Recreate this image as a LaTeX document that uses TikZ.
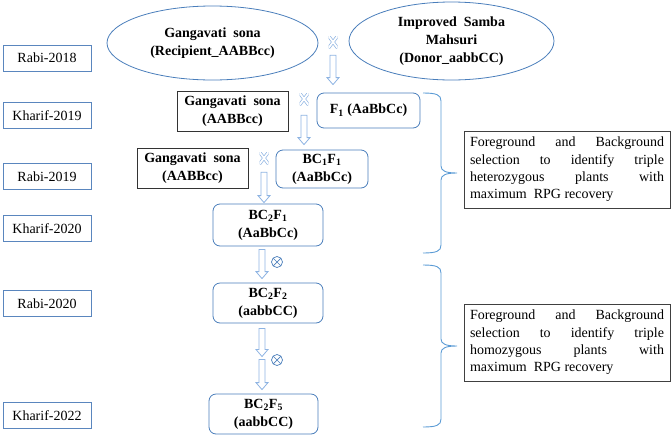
\documentclass[tikz,border=0pt]{standalone}
\usepackage{fontspec}
\setmainfont{Liberation Serif}
\usepackage{tikz}
\usetikzlibrary{positioning,shapes,calc}
\usepackage{xcolor}
\definecolor{tagblue}{HTML}{5A86BE}
\definecolor{lineblue}{HTML}{4A7EBB}
\definecolor{arrowblue}{HTML}{8DB3E2}
\definecolor{braceblue}{HTML}{5B9BD5}

\begin{document}
\begin{tikzpicture}[
    x = 1pt,
    y = -1pt,
    semithick,
    year/.style={draw=tagblue, line width=0.8pt, minimum width=88pt, minimum height=26pt, inner sep=1pt, font=\fontsize{14}{16}\selectfont},
    parent/.style={ellipse, draw=lineblue, line width=0.8pt, align=center, inner sep=0pt, font=\bfseries\fontsize{14}{18}\selectfont},
    recur/.style={draw=black!80, line width=0.9pt, align=center, minimum width=111pt, minimum height=40pt, inner sep=1pt, font=\bfseries\fontsize{14}{18}\selectfont},
    plant/.style={draw=lineblue, line width=0.8pt, rounded corners=7pt, align=center, minimum height=40pt, inner sep=1pt, font=\bfseries\fontsize{14}{18}\selectfont},
    note/.style={draw=black!75, line width=0.9pt, text width=194pt, inner sep=6pt, align=justify,
        font={\fontsize{14}{17.4}\selectfont\tolerance=10000\relax\hbadness=10000\relax\hyphenpenalty=10000\relax}},
    crossing/.style={minimum width=9pt, minimum height=12pt, inner sep=0pt,
        path picture={\draw[draw=arrowblue, double=white, double distance=1.8pt, line width=0.7pt]
            (path picture bounding box.north west) -- (path picture bounding box.south east)
            (path picture bounding box.north east) -- (path picture bounding box.south west);}},
    selfing/.style={circle, draw=lineblue, line width=0.7pt, minimum size=11pt, inner sep=0pt,
        path picture={\draw[lineblue, line width=0.7pt]
            (path picture bounding box.north west) -- (path picture bounding box.south east)
            (path picture bounding box.north east) -- (path picture bounding box.south west);}},
    hollow/.style={draw=arrowblue, line width=0.8pt,
        to path={let \p1=(\tikztostart), \p2=(\tikztotarget) in
            (\x1-3pt,\y1) -- (\x2-3pt,\y2+7pt) -- (\x2-6pt,\y2+7pt) -- (\x2,\y2)
            -- (\x2+6pt,\y2+7pt) -- (\x2+3pt,\y2+7pt) -- (\x1+3pt,\y1) -- cycle}},
    span/.style={draw=braceblue, line width=0.9pt}
]
    \useasboundingbox (0,0) rectangle (672,437);

    \node[year] (r18) at (47,58) {Rabi-2018};
    \node[year] (k19) at (47,115.5) {Kharif-2019};
    \node[year] (r19) at (47,176.5) {Rabi-2019};
    \node[year] (k20) at (47,228.5) {Kharif-2020};
    \node[year] (r20) at (47,303.5) {Rabi-2020};
    \node[year] (k22) at (47,415.5) {Kharif-2022};

    \node[parent, minimum width=211pt, minimum height=74pt] (gs) at (212.5,43) {Gangavati~~sona\\(Recipient\_AABBcc)};
    \node[parent, minimum width=205pt, minimum height=78pt] (ism) at (451.5,41) {Improved~~Samba\\Mahsuri\\(Donor\_aabbCC)};

    \node[recur] (gs1) at (232.5,111.5) {Gangavati~~sona\\(AABBcc)};
    \node[recur] (gs2) at (192.5,168.5) {Gangavati~~sona\\(AABBcc)};

    \node[plant, minimum width=103pt, minimum height=35pt] (f1) at (368.5,110.5) {F\textsubscript{1} (AaBbCc)};
    \node[plant, minimum width=92pt, minimum height=38pt] (bc11) at (322,169) {BC\textsubscript{1}F\textsubscript{1}\\(AaBbCc)};
    \node[plant, minimum width=110pt, minimum height=42pt] (bc21) at (268,225) {BC\textsubscript{2}F\textsubscript{1}\\(AaBbCc)};
    \node[plant, minimum width=110pt] (bc22) at (268,303) {BC\textsubscript{2}F\textsubscript{2}\\(aabbCC)};
    \node[plant, minimum width=109pt] (bc25) at (263.5,414) {BC\textsubscript{2}F\textsubscript{5}\\(aabbCC)};

    \node[crossing] (x1) at (333,42) {};
    \node[crossing] (x2) at (304,99) {};
    \node[crossing] (x3) at (264,158) {};
    \node[selfing] (s1) at (277,262) {};
    \node[selfing] (s2) at (277,360) {};
    \coordinate (m1) at (262,358.5);

    \draw[hollow] ([yshift=-7pt]x1.south) to ($(x1 |- f1.north)+(0,8pt)$);
    \draw[hollow] ([yshift=-10pt]x2.south) to ($(x2 |- bc11.north)+(0,5pt)$);
    \draw[hollow] ([yshift=-8pt]x3.south) to ($(x3 |- bc21.north)+(0,1pt)$);
    \draw[hollow] ($(bc21.south)+(-6pt,-3pt)$) to ($(bc22.north)+(-6pt,4pt)$);
    \draw[hollow] ($(bc22.south)+(-6pt,-5pt)$) to ([yshift=2pt]m1);
    \draw[hollow] ([yshift=-1pt]m1) to ($(bc25.north)+(-1.5pt,4pt)$);

    \node[note] (het) at (567,169.5) {Foreground and Background\linebreak selection to identify triple\linebreak heterozygous plants with\linebreak maximum~ RPG recovery};
    \node[note] (hom) at (567,342.5) {Foreground and Background\linebreak selection to identify triple\linebreak homozygous plants with\linebreak maximum~ RPG recovery};

    \draw[span] (423,93) .. controls (437,93) and (441,95) .. (441,101)
        -- (441,166) .. controls (441,171) and (446,173) .. (457,173)
        .. controls (446,173) and (441,175) .. (441,180)
        -- (441,245) .. controls (441,251) and (437,253) .. (423,253);
    \draw[span] (423,265) .. controls (437,265) and (441,267) .. (441,273)
        -- (441,339) .. controls (441,344) and (446,346) .. (457,346)
        .. controls (446,346) and (441,348) .. (441,353)
        -- (441,419) .. controls (441,425) and (437,427) .. (423,427);
\end{tikzpicture}
\end{document}
